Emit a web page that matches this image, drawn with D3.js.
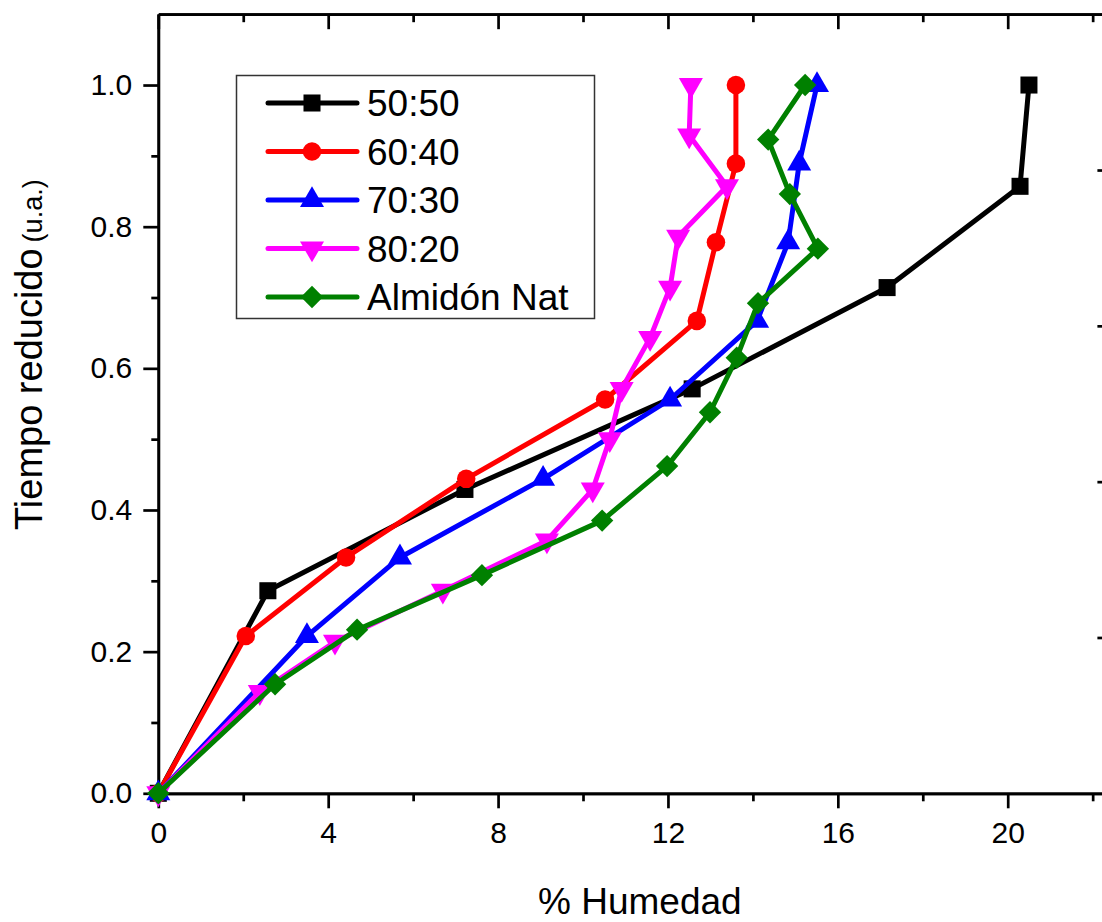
<!DOCTYPE html>
<html>
<head>
<meta charset="utf-8">
<script src="https://cdn.jsdelivr.net/npm/d3@7"></script>
<style>
  body { margin: 0; background: #fff; }
  svg { display: block; font-family: "Liberation Sans", Arial, sans-serif; }
</style>
</head>
<body>
<div id="chart"></div>
<script>
// data
var seriesNames = ["50:50", "60:40", "70:30", "80:20", "Almidón Nat"];

var x5050 = [0, 2.58, 7.22, 12.57, 17.16, 20.29, 20.50];
var y5050 = [0, 0.286, 0.429, 0.571, 0.714, 0.857, 1.0];

var x6040 = [0, 2.06, 4.42, 7.25, 10.52, 12.68, 13.13, 13.6, 13.6];
var y6040 = [0, 0.222, 0.333, 0.444, 0.556, 0.667, 0.778, 0.889, 1.0];

var x7030 = [0, 3.5, 5.69, 9.06, 12.05, 14.1, 14.83, 15.09, 15.51];
var y7030 = [0, 0.222, 0.333, 0.444, 0.556, 0.667, 0.778, 0.889, 1.0];

var x8020 = [0, 2.39, 4.16, 6.7, 9.15, 10.23, 10.63, 10.91, 11.58, 12.05, 12.24, 13.39, 12.5, 12.54];
var y8020 = [0, 0.143, 0.214, 0.286, 0.357, 0.429, 0.5, 0.571, 0.643, 0.714, 0.786, 0.857, 0.929, 1.0];

var xNat = [0, 2.75, 4.68, 7.62, 10.45, 11.98, 12.99, 13.62, 14.12, 15.53, 14.87, 14.36, 15.23];
var yNat = [0, 0.154, 0.231, 0.308, 0.385, 0.462, 0.538, 0.615, 0.692, 0.769, 0.846, 0.923, 1.0];

var xMajor = [0, 4, 8, 12, 16, 20];
var xMinor = [2, 6, 10, 14, 18, 22];
var yMajor = [0, 0.2, 0.4, 0.6, 0.8, 1.0];
var yMinor = [0.1, 0.3, 0.5, 0.7, 0.9];
var rightTicks = [0.22, 0.44, 0.66, 0.88];

var colors = ["#000000", "#ff0000", "#0000ff", "#ff00ff", "#008000"];
// diamond = square turned 45 degrees, like the original plot
var symbols = [d3.symbolSquare, d3.symbolCircle, d3.symbolTriangle, d3.symbolTriangle, d3.symbolSquare];
var symSizes = [290, 270, 250, 250, 250];
var symRotate = [0, 0, 0, 180, 45];

var xs = [x5050, x6040, x7030, x8020, xNat];
var ys = [y5050, y6040, y7030, y8020, yNat];
var series = seriesNames.map(function(name, i) {
  return { name: name, values: xs[i].map(function(v, j) { return { x: v, y: ys[i][j] }; }) };
});

var svgWidth = 1102, svgHeight = 922;
var plotLeft = 158.3, plotRight = 1105.4, plotTop = 14.2, plotBottom = 793.3;

var svg = d3.select("#chart").append("svg")
  .attr("width", svgWidth)
  .attr("height", svgHeight);

var x = d3.scaleLinear().domain([0, 22.3]).range([plotLeft, plotRight]);
var y = d3.scaleLinear().domain([0, 1.1]).range([plotBottom, plotTop]);

// axes
function styleAxis(g) {
  g.select(".domain").attr("stroke", "#000").attr("stroke-width", 2.7);
  g.selectAll(".tick line").attr("stroke", "#000").attr("stroke-width", 2.7);
  g.selectAll(".tick text").attr("fill", "#000").style("font-size", "30px");
}

svg.append("g")
  .attr("transform", "translate(0," + plotBottom + ")")
  .call(d3.axisBottom(x).tickValues(xMinor).tickSize(8).tickSizeOuter(0).tickFormat(""))
  .call(styleAxis);
svg.append("g")
  .attr("transform", "translate(0," + plotBottom + ")")
  .call(d3.axisBottom(x).tickValues(xMajor).tickSize(15).tickSizeOuter(0).tickPadding(13).tickFormat(d3.format("d")))
  .call(styleAxis);

svg.append("g")
  .attr("transform", "translate(0," + plotTop + ")")
  .call(d3.axisTop(x).tickValues(xMinor).tickSize(-8).tickSizeOuter(0).tickFormat(""))
  .call(styleAxis);
svg.append("g")
  .attr("transform", "translate(0," + plotTop + ")")
  .call(d3.axisTop(x).tickValues(xMajor).tickSize(-15).tickSizeOuter(0).tickFormat(""))
  .call(styleAxis);

svg.append("g")
  .attr("transform", "translate(" + plotLeft + ",0)")
  .call(d3.axisLeft(y).tickValues(yMinor).tickSize(7).tickSizeOuter(0).tickFormat(""))
  .call(styleAxis);
svg.append("g")
  .attr("transform", "translate(" + plotLeft + ",0)")
  .call(d3.axisLeft(y).tickValues(yMajor).tickSize(15).tickSizeOuter(0).tickPadding(11).tickFormat(d3.format(".1f")))
  .call(styleAxis);

svg.append("g")
  .attr("transform", "translate(" + plotRight + ",0)")
  .call(d3.axisRight(y).tickValues(rightTicks).tickSize(-8).tickSizeOuter(0).tickFormat(""))
  .call(styleAxis);

// lines + markers
var line = d3.line().x(function(d) { return x(d.x); }).y(function(d) { return y(d.y); });

series.forEach(function(s, i) {
  var g = svg.append("g");
  g.append("path")
    .datum(s.values)
    .attr("fill", "none")
    .attr("stroke", colors[i])
    .attr("stroke-width", 5)
    .attr("stroke-linejoin", "round")
    .attr("d", line);
  g.selectAll("path.mark")
    .data(s.values)
    .enter()
    .append("path")
    .attr("class", "mark")
    .attr("d", d3.symbol().type(symbols[i]).size(symSizes[i]))
    .attr("fill", colors[i])
    .attr("transform", function(d) {
      return "translate(" + x(d.x) + "," + y(d.y) + ") rotate(" + symRotate[i] + ")";
    });
});

// legend
var legend = svg.append("g");
legend.append("rect")
  .attr("x", 236.5).attr("y", 75.5)
  .attr("width", 358).attr("height", 243)
  .attr("fill", "#fff")
  .attr("stroke", "#333")
  .attr("stroke-width", 1.5);

seriesNames.forEach(function(name, i) {
  var ly = 103 + i * 48.5;
  legend.append("line")
    .attr("x1", 268).attr("x2", 357)
    .attr("y1", ly).attr("y2", ly)
    .attr("stroke", colors[i])
    .attr("stroke-width", 5)
    .attr("stroke-linecap", "round");
  legend.append("path")
    .attr("d", d3.symbol().type(symbols[i]).size(symSizes[i]))
    .attr("fill", colors[i])
    .attr("transform", "translate(312," + ly + ") rotate(" + symRotate[i] + ")");
  legend.append("text")
    .attr("x", 367).attr("y", ly)
    .attr("dy", "0.36em")
    .style("font-size", "37px")
    .text(name);
});

// axis titles
svg.append("text")
  .attr("x", (plotLeft + plotRight) / 2 + 8)
  .attr("y", 914)
  .attr("text-anchor", "middle")
  .style("font-size", "37px")
  .text("% Humedad");

var yt = svg.append("text")
  .attr("transform", "translate(42,530) rotate(-90)")
  .style("font-size", "38px");
yt.append("tspan").text("Tiempo reducido");
yt.append("tspan").attr("dx", 6).style("font-size", "27px").text("(u.a.)");
</script>
</body>
</html>
